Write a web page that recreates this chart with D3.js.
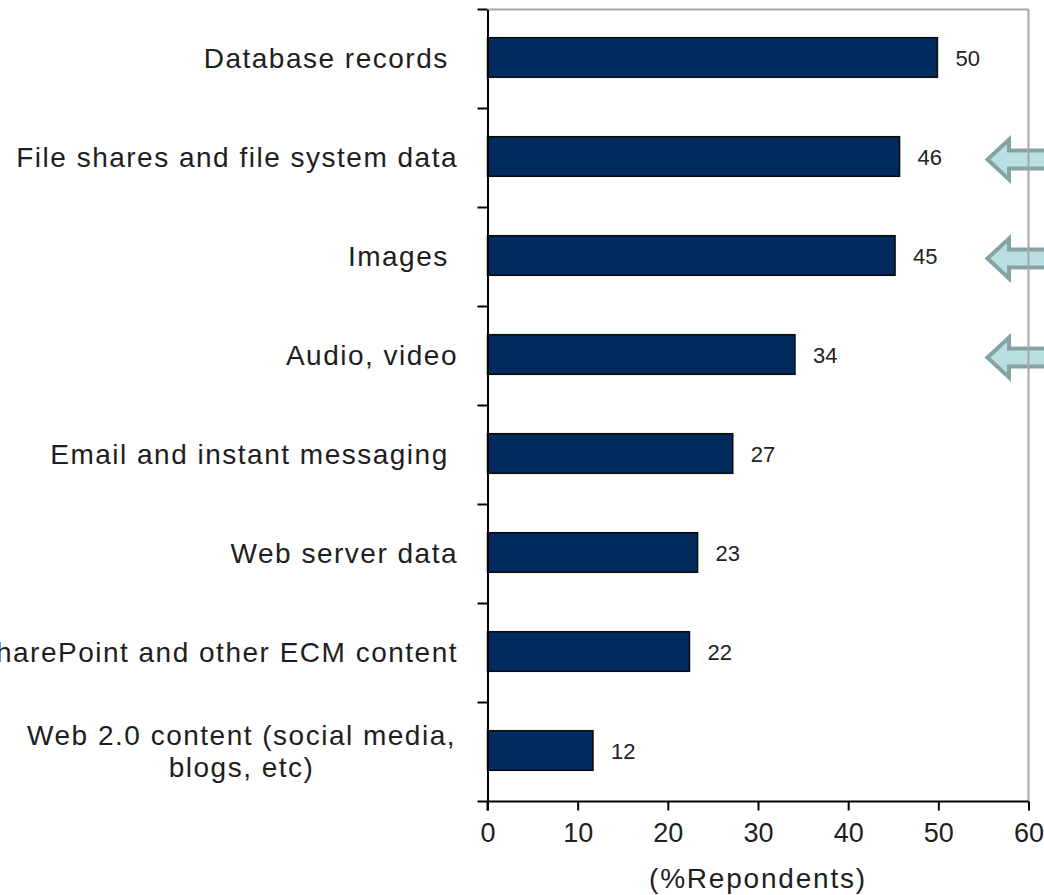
<!DOCTYPE html>
<html>
<head>
<meta charset="utf-8">
<script src="https://cdn.jsdelivr.net/npm/d3@7"></script>
<style>
  html, body { margin: 0; padding: 0; background: #fff; }
  svg { display: block; }
  text { font-family: "Liberation Sans", Arial, sans-serif; }
</style>
</head>
<body>
<svg id="chart" width="1044" height="895"></svg>
<script>
// ---- data ----
const categories = [
  "Database records ",
  "File shares and file system data",
  "Images ",
  "Audio, video",
  "Email and instant messaging ",
  "Web server data",
  "SharePoint and other ECM content",
  "Web 2.0 content (social media,|blogs, etc)"
];
const values = [49.9, 45.7, 45.2, 34.1, 27.2, 23.3, 22.4, 11.7];
const valueLabels = ["50", "46", "45", "34", "27", "23", "22", "12"];
const xTicks = [0, 10, 20, 30, 40, 50, 60];
const highlighted = ["File shares and file system data", "Images ", "Audio, video"];
const axisTitle = "(%Repondents)";

// ---- layout ----
const svg = d3.select("#chart");
const pL = 487.5, pR = 1028.5, pT = 9.5, pB = 801.5;
const LS = 1.5;

const x = d3.scaleLinear().domain([0, 60]).range([pL, pR]);
const y = d3.scaleBand().domain(categories).range([pT, pB]).paddingInner(0.6).paddingOuter(0.3);
const yOuter = d3.scaleBand().domain(categories).range([pT, pB]);

// arrows (annotation, drawn beneath the frame)
const arrowG = svg.append("g");
highlighted.forEach(c => {
  const cy = yOuter(c) + yOuter.bandwidth() / 2 + 1.5;
  const tip = 987.5, back = 1009, hh = 20, sh = 9;
  const p = `M${tip},${cy} L${back},${cy - hh} L${back},${cy - sh} L1070,${cy - sh} L1070,${cy + sh} L${back},${cy + sh} L${back},${cy + hh} Z`;
  arrowG.append("path").attr("d", p)
    .attr("fill", "#b9dfe2").attr("stroke", "#86a3a3").attr("stroke-width", 4)
    .attr("stroke-linejoin", "miter");
});

// frame: top and right gray
svg.append("line").attr("x1", pL).attr("x2", pR).attr("y1", pT).attr("y2", pT)
  .attr("stroke", "#a6a6a6").attr("stroke-width", 2);
svg.append("line").attr("x1", pR).attr("x2", pR).attr("y1", pT).attr("y2", pB)
  .attr("stroke", "#a6a6a6").attr("stroke-width", 2);

// bars
svg.append("g").selectAll("rect").data(categories).join("rect")
  .attr("x", x(0))
  .attr("y", d => y(d) - 1.5)
  .attr("width", (d, i) => x(values[i]) - x(0))
  .attr("height", y.bandwidth())
  .attr("fill", "#002b5c")
  .attr("stroke", "#0a0a0a")
  .attr("stroke-width", 1.5);

// value labels
svg.append("g").selectAll("text").data(categories).join("text")
  .attr("x", (d, i) => x(values[i]) + 18)
  .attr("y", d => yOuter(d) + yOuter.bandwidth() / 2 - 1)
  .attr("dy", "0.35em")
  .attr("font-size", 22)
  .attr("fill", "#222")
  .text((d, i) => valueLabels[i]);

// y axis
const yAxis = d3.axisLeft(yOuter).tickSize(0).tickFormat("");
const gy = svg.append("g").attr("transform", `translate(${pL},0)`).call(yAxis);
gy.select(".domain").attr("stroke", "#000").attr("stroke-width", 2);
const bounds = categories.map(c => yOuter(c)).concat([pB]);
gy.selectAll(".bt").data(bounds).join("line").attr("class", "bt")
  .attr("x1", -10).attr("x2", 0).attr("y1", d => d).attr("y2", d => d)
  .attr("stroke", "#000").attr("stroke-width", 2);
gy.append("line").attr("x1", 0).attr("x2", 0).attr("y1", pB).attr("y2", pB + 9)
  .attr("stroke", "#000").attr("stroke-width", 2);

// category labels
const labelX = 458;
const lg = svg.append("g");
categories.forEach(c => {
  const lines = c.split("|");
  const cy = yOuter(c) + yOuter.bandwidth() / 2 - 1;
  if (lines.length === 1) {
    lg.append("text").attr("x", labelX).attr("y", cy).attr("dy", "0.35em")
      .attr("text-anchor", "end").attr("font-size", 28).attr("letter-spacing", LS)
      .style("white-space", "pre").attr("fill", "#1e1e1e").text(lines[0]);
  } else {
    const lh = 32;
    const t1 = lg.append("text").attr("x", labelX - 2).attr("y", cy - lh / 2).attr("dy", "0.35em")
      .attr("text-anchor", "end").attr("font-size", 28).attr("letter-spacing", LS)
      .attr("fill", "#1e1e1e").text(lines[0]);
    const bb = t1.node().getBBox();
    lg.append("text").attr("x", bb.x + bb.width / 2).attr("y", cy + lh / 2).attr("dy", "0.35em")
      .attr("text-anchor", "middle").attr("font-size", 28).attr("letter-spacing", LS)
      .attr("fill", "#1e1e1e").text(lines[1]);
  }
});

// x axis
const xAxis = d3.axisBottom(x).tickValues(xTicks).tickSize(9).tickPadding(12).tickFormat(d3.format("d"));
const gx = svg.append("g").attr("transform", `translate(0,${pB})`).call(xAxis);
gx.select(".domain").attr("stroke", "#000").attr("stroke-width", 2).attr("d", `M${pL},0H${pR}`);
gx.selectAll(".tick line").attr("stroke", "#000").attr("stroke-width", 2);
gx.selectAll(".tick text").attr("font-size", 27).attr("fill", "#1e1e1e")
  .style("font-family", "'Liberation Sans', Arial, sans-serif");

// axis title
svg.append("text").attr("x", (pL + pR) / 2).attr("y", 888)
  .attr("text-anchor", "middle").attr("font-size", 28).attr("letter-spacing", 1.8)
  .attr("fill", "#1e1e1e").text(axisTitle);
</script>
</body>
</html>
